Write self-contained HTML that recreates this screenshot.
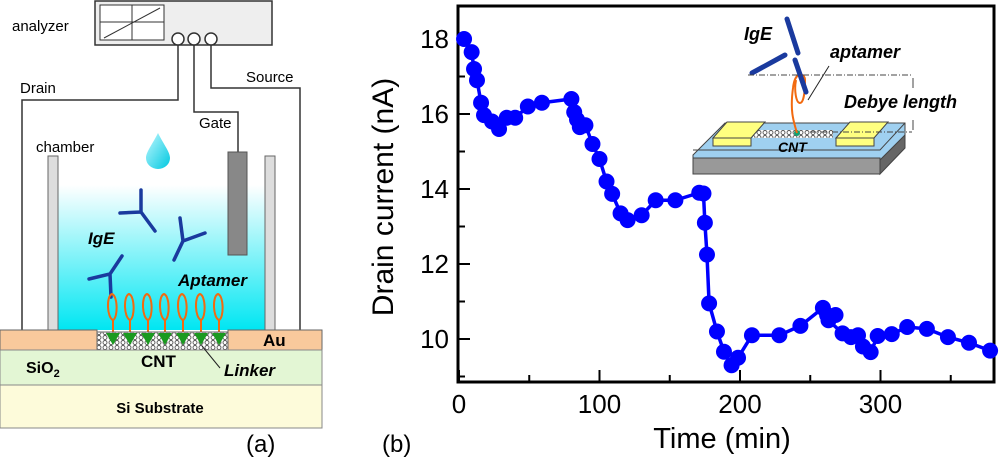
<!DOCTYPE html>
<html><head><meta charset="utf-8"><style>
html,body{margin:0;padding:0;background:#fff}
svg{display:block;font-family:"Liberation Sans",Arial,sans-serif}
</style></head><body>
<svg id="fig" width="1000" height="468" viewBox="0 0 1000 468">
<defs>
<linearGradient id="liq" x1="0" y1="0" x2="0" y2="1"><stop offset="0" stop-color="#ffffff"/><stop offset="1" stop-color="#00e6f2"/></linearGradient>
<pattern id="mesh" width="6" height="5" patternUnits="userSpaceOnUse"><rect width="6" height="5" fill="#fff"/><circle cx="3" cy="2.5" r="2" fill="none" stroke="#555" stroke-width="0.9"/></pattern>
<linearGradient id="drop" x1="0" y1="0" x2="1" y2="1"><stop offset="0" stop-color="#bff8ff"/><stop offset="1" stop-color="#00c8e0"/></linearGradient>
</defs>
<g>
<text x="12" y="31" font-size="15">analyzer</text>
<rect x="95" y="1" width="177" height="44" fill="#eee" stroke="#333" stroke-width="1.5"/>
<rect x="100" y="5" width="64" height="35" fill="#fff" stroke="#333"/>
<line x1="132" y1="5" x2="132" y2="40" stroke="#333"/><line x1="100" y1="22" x2="164" y2="22" stroke="#333"/><line x1="104" y1="38" x2="160" y2="8" stroke="#333"/>
<g fill="#fff" stroke="#333" stroke-width="1.5"><circle cx="178" cy="39" r="6"/><circle cx="194" cy="39" r="6"/><circle cx="211" cy="39" r="6"/></g>
<g fill="none" stroke="#333" stroke-width="1.5">
<polyline points="178,45 178,100 22,100 22,330"/>
<polyline points="194,45 194,112 238,112 238,152"/>
<polyline points="211,45 211,88 300,88 300,330"/>
</g>
<text x="20" y="93" font-size="15">Drain</text>
<text x="246" y="82" font-size="15">Source</text>
<text x="199" y="128" font-size="15">Gate</text>
<text x="36" y="152" font-size="15">chamber</text>
<rect x="58" y="185" width="207" height="145" fill="url(#liq)"/>
<rect x="48" y="156" width="10" height="174" fill="#ddd" stroke="#666"/>
<rect x="265" y="156" width="10" height="174" fill="#ddd" stroke="#666"/>
<rect x="228" y="152" width="19" height="103" fill="#888" stroke="#555"/>
<path d="M158,133 C152,145 146,152 146,158 A12,11 0 0 0 170,158 C170,152 164,145 158,133Z" fill="url(#drop)"/>
<g fill="none" stroke="#1a3a9e" stroke-width="3.5" stroke-linecap="round">
<path d="M141,190 L141,212 M120,213 L141,212 L155,231"/>
<path d="M180,218 L183,241 M183,241 L205,233 M183,241 L174,260"/>
<path d="M122,256 L110,274 L89,279 M110,274 L111,297"/>
</g>
<text x="88" y="244" font-size="17" font-weight="bold" font-style="italic">IgE</text>
<text x="178" y="286" font-size="17" font-weight="bold" font-style="italic">Aptamer</text>
<g fill="none" stroke="#f26a10" stroke-width="2">
<path d="M113,333 L113,320 C107,318 106,296 112,294 C118,296 118,318 113,320"/>
<path d="M130,333 L130,320 C124,318 123,296 129,294 C135,296 135,318 130,320"/>
<path d="M148,333 L148,320 C142,318 141,296 147,294 C153,296 153,318 148,320"/>
<path d="M165,333 L165,320 C159,318 158,296 164,294 C170,296 170,318 165,320"/>
<path d="M183,333 L183,320 C177,318 176,296 182,294 C188,296 188,318 183,320"/>
<path d="M201,333 L201,320 C195,318 194,296 200,294 C206,296 206,318 201,320"/>
<path d="M219,333 L219,320 C213,318 212,296 218,294 C224,296 224,318 219,320"/>
</g>
<rect x="0" y="330" width="97" height="20" fill="#f9c99c" stroke="#666"/>
<rect x="228" y="330" width="94" height="20" fill="#f9c99c" stroke="#666"/>
<rect x="97" y="332" width="131" height="18" fill="url(#mesh)" stroke="#666"/>
<g fill="#1a9a20">
<path d="M106,333 h14 l-7,12z"/><path d="M123,333 h14 l-7,12z"/><path d="M141,333 h14 l-7,12z"/><path d="M158,333 h14 l-7,12z"/><path d="M176,333 h14 l-7,12z"/><path d="M194,333 h14 l-7,12z"/><path d="M212,333 h14 l-7,12z"/>
</g>
<rect x="0" y="350" width="322" height="35" fill="#e3f6d4" stroke="#888"/>
<rect x="0" y="385" width="322" height="43" fill="#fdfbda" stroke="#888"/>
<text x="263" y="346" font-size="17" font-weight="bold">Au</text>
<text x="26" y="373" font-size="16" font-weight="bold">SiO<tspan font-size="11" dy="4">2</tspan></text>
<text x="141" y="367" font-size="17" font-weight="bold">CNT</text>
<text x="224" y="376" font-size="17" font-weight="bold" font-style="italic">Linker</text>
<line x1="220" y1="368" x2="202" y2="346" stroke="#222"/>
<text x="160" y="413" font-size="15" font-weight="bold" text-anchor="middle">Si Substrate</text>
<text x="246" y="452" font-size="24">(a)</text>
</g>
<text x="382" y="452" font-size="24">(b)</text>
<g id="chart"></g>
<g>
<path d="M693,155 L725,123 L905,123 L905,143 L880,170 L693,170Z" fill="#9fd0f0" stroke="#444"/>
<path d="M693,158 L880,158 L880,174 L693,174Z" fill="#999" stroke="#444"/>
<path d="M880,174 L905,148 L905,135 L880,160Z" fill="#666" stroke="#444"/>
<path d="M693,150 L880,150 L905,123" fill="none" stroke="#444"/>
<rect x="753" y="130" width="80" height="8" fill="url(#mesh)"/>
<path d="M713,138 L727,122 L765,122 L751,138Z" fill="#ffff80" stroke="#444"/><rect x="713" y="138" width="38" height="8" fill="#ffff80" stroke="#444"/>
<path d="M836,138 L850,122 L888,122 L874,138Z" fill="#ffff80" stroke="#444"/><rect x="836" y="138" width="38" height="8" fill="#ffff80" stroke="#444"/>
<circle cx="797" cy="133" r="3" fill="#10a070"/>
<path d="M797,133 C793,120 790,110 793,88 C795,70 805,73 805,80 C805,95 803,103 800,103 C796,103 794,90 796,80" fill="none" stroke="#f26a10" stroke-width="2"/>
<g fill="none" stroke="#1a3a9e" stroke-width="5" stroke-linecap="round"><path d="M798,53 L787,19 M785,55 L752,73 M795,60 L806,92"/></g>
<line x1="748" y1="75" x2="912" y2="75" stroke="#444" stroke-dasharray="6,2,1,2"/>
<line x1="810" y1="132" x2="912" y2="132" stroke="#444" stroke-dasharray="6,2,1,2"/>
<line x1="913" y1="78" x2="913" y2="88" stroke="#444"/><line x1="913" y1="120" x2="913" y2="130" stroke="#444"/>
<line x1="829" y1="66" x2="808" y2="100" stroke="#222"/>
<text x="744" y="40" font-size="18" font-weight="bold" font-style="italic">IgE</text>
<text x="830" y="58" font-size="18" font-weight="bold" font-style="italic">aptamer</text>
<text x="844" y="108" font-size="18" font-weight="bold" font-style="italic">Debye length</text>
<text x="778" y="152" font-size="14" font-weight="bold" font-style="italic">CNT</text>
</g>
</svg>
<script>
const times=[3.6,9,10.7,12.8,15.7,17.8,23.5,28.5,34,40,49,59,80,82,84,86,90,95,100,105,109,115,120,130,140,154,171,174,175,176.5,178,183.6,188.6,194,198.6,208.5,228,243,259,262,268,263,273,279,284,287.5,293,298,308,319,333,348,363,378];
const current=[18.0,17.65,17.2,16.9,16.3,15.97,15.8,15.6,15.9,15.9,16.2,16.3,16.4,16.05,15.85,15.65,15.7,15.2,14.8,14.2,13.87,13.35,13.17,13.3,13.7,13.7,13.9,13.88,13.1,12.25,10.95,10.2,9.66,9.3,9.5,10.1,10.1,10.35,10.83,10.64,10.64,10.5,10.15,10.05,10.1,9.8,9.65,10.08,10.13,10.32,10.27,10.05,9.9,9.69];
const xTicks=[0,100,200,300];
const yTicks=[10,12,14,16,18];
const NS='http://www.w3.org/2000/svg';
const g=document.getElementById('chart');
const X=t=>459+t*1.405;
const Y=v=>339-(v-10)*37.5;
function mk(tag,attrs){const e=document.createElementNS(NS,tag);for(const k in attrs)e.setAttribute(k,attrs[k]);g.appendChild(e);return e;}
const frame=mk('rect',{x:458,y:6,width:536,height:376,fill:'none',stroke:'#000','stroke-width':3});


for(let t=0;t<=350;t+=50){const l=mk('line',{x1:X(t),x2:X(t),y1:382,y2:t%100?375:370,stroke:'#000','stroke-width':2});

}
for(let v=9;v<=19;v+=1){if(Y(v)<8||Y(v)>380)continue;const l=mk('line',{x1:458,x2:v%2?465:470,y1:Y(v),y2:Y(v),stroke:'#000','stroke-width':2});

}
xTicks.forEach(t=>{const e=mk('text',{x:X(t),y:413,'font-size':26,'text-anchor':'middle'});e.textContent=t;

});
yTicks.forEach(v=>{const e=mk('text',{x:449,y:Y(v)+9,'font-size':26,'text-anchor':'end'});e.textContent=v;

});
const xt=mk('text',{x:722,y:448,'font-size':29,'text-anchor':'middle'});xt.textContent='Time (min)';


const yt=mk('text',{x:0,y:0,'font-size':30,'text-anchor':'middle',transform:'translate(393,197) rotate(-90)'});yt.textContent='Drain current (nA)';


const line=mk('polyline',{points:times.map((t,i)=>X(t)+','+Y(current[i])).join(' '),fill:'none',stroke:'#0000ff','stroke-width':3.5});


times.forEach((t,i)=>{const c=mk('circle',{cx:X(t),cy:Y(current[i]),r:8,fill:'#0000ff'});

});
</script>
</body></html>
